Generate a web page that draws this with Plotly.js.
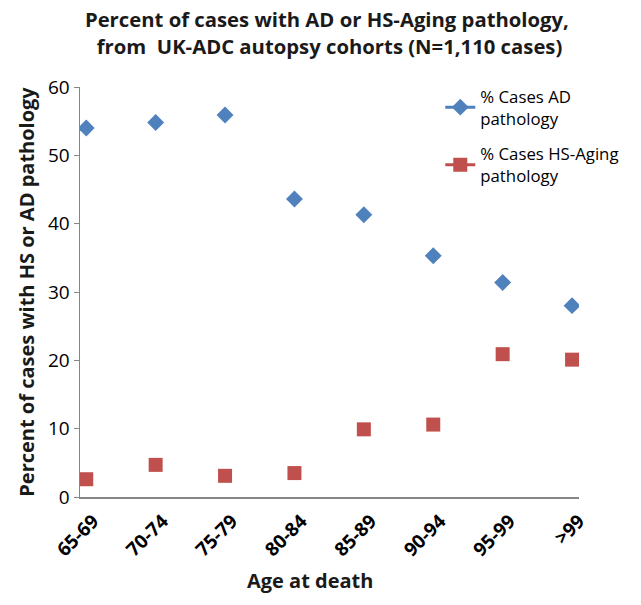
<!DOCTYPE html>
<html>
<head>
<meta charset="utf-8">
<script src="https://cdn.plot.ly/plotly-3.0.1.min.js"></script>
<style>html,body{margin:0;padding:0;background:#fff;}#chart{width:641px;height:605px;}</style>
</head>
<body>
<div id="chart"></div>
<script>
const ageGroups = ["65-69", "70-74", "75-79", "80-84", "85-89", "90-94", "95-99", ">99"];
const pctAD = [54.0, 54.8, 55.9, 43.6, 41.3, 35.3, 31.4, 28.0];
const pctHS = [2.6, 4.7, 3.1, 3.5, 9.9, 10.6, 20.9, 20.1];
const yTicks = [0, 10, 20, 30, 40, 50, 60];
const seriesNames = ["% Cases AD<br>pathology", "% Cases HS-Aging<br>pathology"];

const FONT = "'Open Sans', 'Liberation Sans', sans-serif";
const idx = ageGroups.map((_, i) => i);
const BLUE = "#4F81BD", RED = "#C0504D";

const traces = [
  {
    x: idx, y: pctAD, name: seriesNames[0], showlegend: false, legendgroup: "ad",
    type: "scatter", mode: "markers",
    marker: {symbol: "diamond", size: 13, color: BLUE, line: {width: 0}}
  },
  {
    x: idx, y: pctHS, name: seriesNames[1], showlegend: false, legendgroup: "hs",
    type: "scatter", mode: "markers",
    marker: {symbol: "square", size: 14, color: RED, line: {width: 0}}
  },
  // legend-only entries showing line + marker sample as in the original
  {
    x: [null], y: [null], name: seriesNames[0], legendgroup: "ad", type: "scatter", mode: "lines+markers",
    marker: {symbol: "diamond", size: 13, color: BLUE}, line: {color: BLUE, width: 3}
  },
  {
    x: [null], y: [null], name: seriesNames[1], legendgroup: "hs", type: "scatter", mode: "lines+markers",
    marker: {symbol: "square", size: 14, color: RED}, line: {color: RED, width: 3}
  }
];

const layout = {
  width: 641, height: 605,
  paper_bgcolor: "#fff", plot_bgcolor: "#fff",
  margin: {l: 80, r: 62, t: 87, b: 108},
  font: {family: FONT, color: "#000"},
  title: {
    text: "<b>Percent of cases with AD or HS-Aging pathology,<br> from  UK-ADC autopsy cohorts (N=1,110 cases)</b>",
    font: {family: FONT, size: 20.3, color: "#1a1a1a"},
    x: 0.51, xanchor: "center", y: 0.955, yanchor: "top"
  },
  xaxis: {
    range: [-0.09, 7.1],
    tickmode: "array", tickvals: idx, ticktext: ageGroups.map(s => "<b>" + s + "</b>"),
    tickangle: -45, tickfont: {size: 19, color: "#000"},
    ticklabelshift: 7, ticklabelstandoff: 4,
    showline: true, linecolor: "#868686", linewidth: 1.5,
    showgrid: false, zeroline: false, ticks: "",
    title: {text: ""}
  },
  yaxis: {
    range: [0, 60],
    tickmode: "array", tickvals: yTicks,
    tickfont: {size: 19, color: "#000"},
    showline: true, linecolor: "#868686", linewidth: 1.5,
    showgrid: false, zeroline: false, ticks: "outside", ticklen: 5, tickcolor: "#868686",
    title: {text: "<b>Percent of cases with HS or AD pathology</b>", font: {size: 20, color: "#1a1a1a"}, standoff: 8}
  },
  annotations: [{
    text: "<b>Age at death</b>", xref: "paper", yref: "paper",
    x: (310 - 80) / 499, y: -(580 - 497) / 410, xanchor: "center", yanchor: "middle",
    showarrow: false, font: {family: FONT, size: 20, color: "#1a1a1a"}
  }],
  legend: {
    x: 0.722, xanchor: "left", y: 1.02, yanchor: "top",
    font: {size: 16.8, color: "#000"}, bgcolor: "rgba(0,0,0,0)",
    traceorder: "grouped", tracegroupgap: 11
  },
  showlegend: true
};

Plotly.newPlot("chart", traces, layout, {displayModeBar: false, staticPlot: true});
</script>
</body>
</html>
